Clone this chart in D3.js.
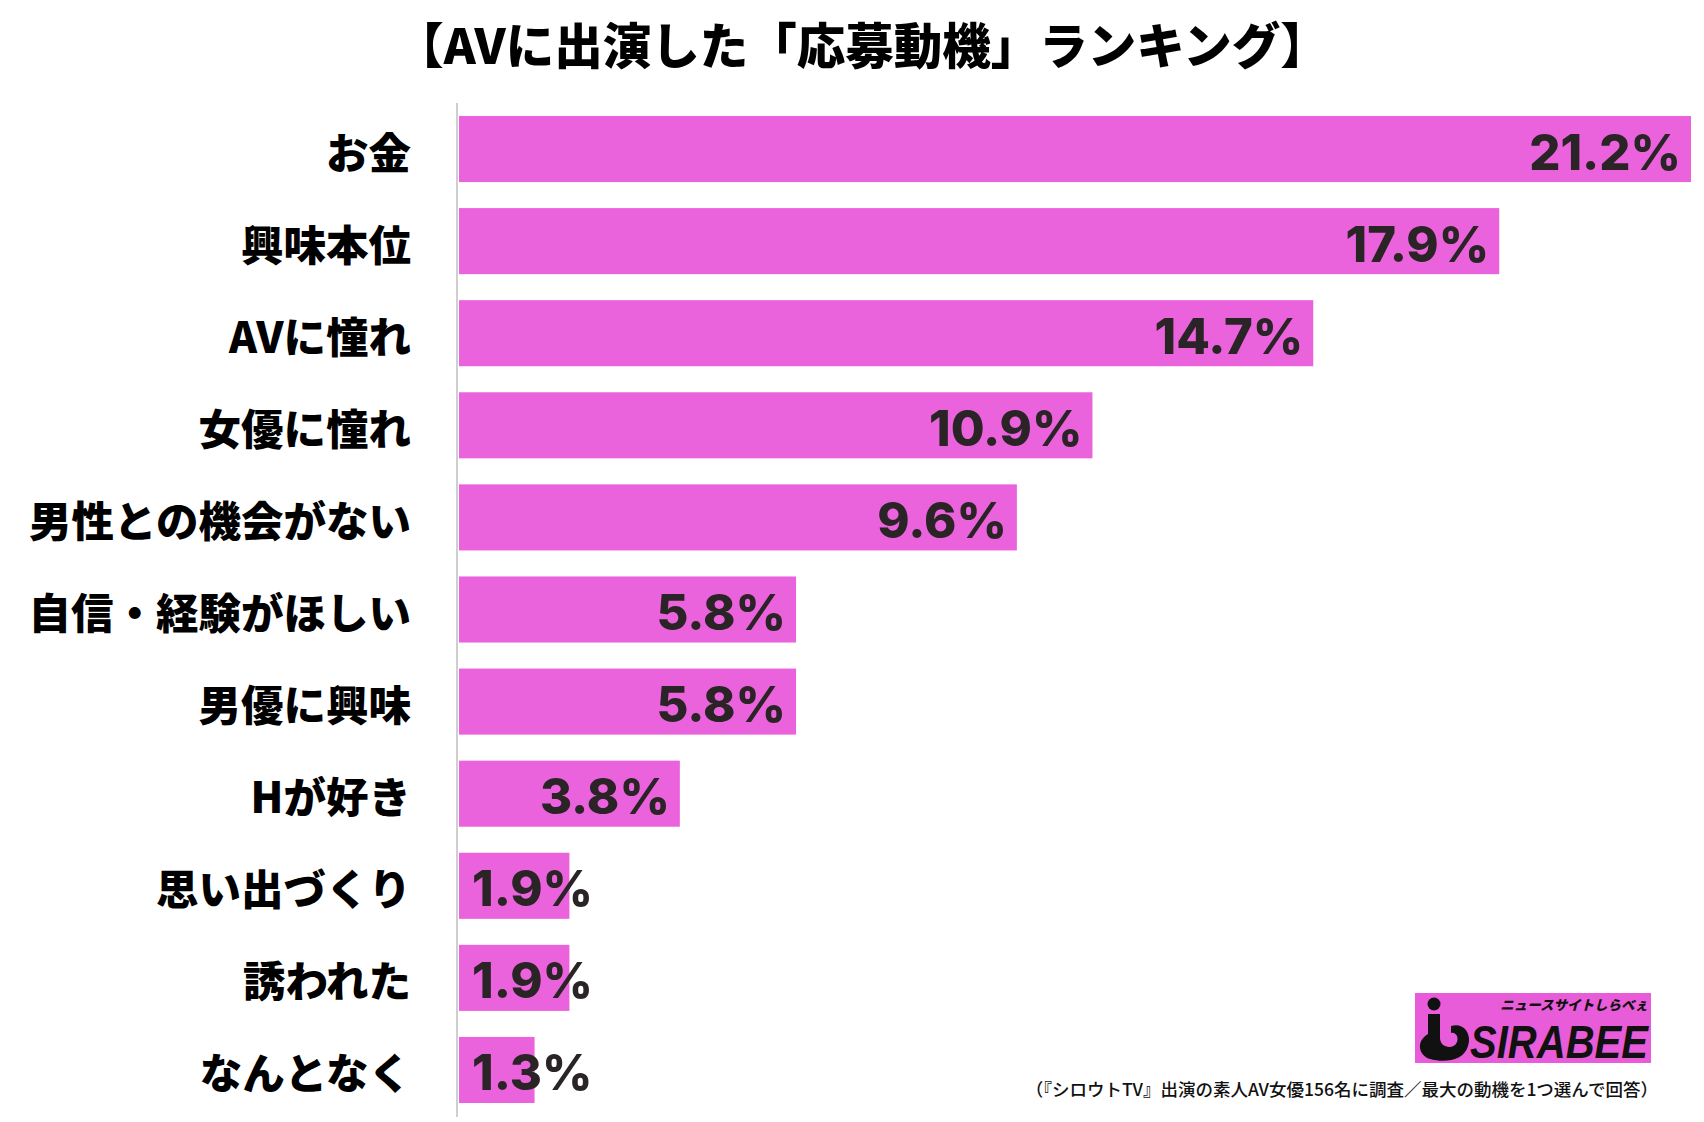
<!DOCTYPE html>
<html><head><meta charset="utf-8">
<script src="https://cdn.jsdelivr.net/npm/d3@7"></script>
<style>body{margin:0;background:#fff}svg{display:block}</style>
</head><body>
<script>
const categories = ["お金","興味本位","AVに憧れ","女優に憧れ","男性との機会がない","自信・経験がほしい","男優に興味","Hが好き","思い出づくり","誘われた","なんとなく"];
const values = [21.2,17.9,14.7,10.9,9.6,5.8,5.8,3.8,1.9,1.9,1.3];
const valueLabels = ["21.2%","17.9%","14.7%","10.9%","9.6%","5.8%","5.8%","3.8%","1.9%","1.9%","1.3%"];
const title = "【AVに出演した「応募動機」ランキング】";
const note = "（『シロウトTV』出演の素人AV女優156名に調査／最大の動機を1つ選んで回答）";

const W = 1704, H = 1122;
const svg = d3.select("body").append("svg").attr("width", W).attr("height", H);
const cjk = "'Noto Sans CJK JP','Noto Sans',sans-serif";

const x0 = 459;
const x = d3.scaleLinear().domain([0, 21.2]).range([x0, 1691]);
const y = d3.scaleBand().domain(categories).range([103, 1116]).paddingInner(26/92).paddingOuter(0.141);

svg.append("text").attr("x", 862).attr("y", 43).attr("text-anchor", "middle")
  .attr("dominant-baseline", "central").attr("font-family", cjk).attr("font-weight", 900)
  .attr("font-size", 48.5).attr("fill", "#000").text(title);

svg.append("line").attr("x1", 457).attr("x2", 457).attr("y1", 103).attr("y2", 1117)
  .attr("stroke", "#cfcfcf").attr("stroke-width", 2);

svg.selectAll("rect.bar").data(values).enter().append("rect").attr("class", "bar")
  .attr("x", x0).attr("y", (d, i) => y(categories[i]))
  .attr("width", d => x(d) - x0).attr("height", y.bandwidth())
  .attr("fill", "#EB62DD");

svg.selectAll("text.cat").data(categories).enter().append("text").attr("class", "cat")
  .attr("x", 411).attr("y", d => y(d) + y.bandwidth() / 2 + 1)
  .attr("text-anchor", "end").attr("dominant-baseline", "central")
  .attr("font-family", cjk).attr("font-weight", 900).attr("font-size", 42.5)
  .attr("fill", "#000").text(d => d);

const vl = svg.selectAll("text.val").data(values).enter().append("text").attr("class", "val")
  .attr("y", (d, i) => y(categories[i]) + y.bandwidth() / 2 + 3)
  .attr("text-anchor", "end").attr("dominant-baseline", "central")
  .attr("font-family", "Inter, 'Liberation Sans', sans-serif").attr("font-weight", 800)
  .attr("font-size", 49).attr("fill", "#2a2426").text((d, i) => valueLabels[i]);
vl.each(function(d) {
  const w = this.getComputedTextLength();
  d3.select(this).attr("x", Math.max(x(d) - 10, x0 + 13 + w));
});

// footnote
svg.append("text").attr("x", 1658).attr("y", 1088).attr("text-anchor", "end")
  .attr("dominant-baseline", "central").attr("font-family", cjk).attr("font-weight", 500)
  .attr("font-size", 17.5).attr("fill", "#111").text(note);

// logo
const lg = svg.append("g");
lg.append("rect").attr("x", 1415).attr("y", 993).attr("width", 236).attr("height", 70).attr("fill", "#E95CD9");
lg.append("circle").attr("cx", 1434).attr("cy", 1004).attr("r", 6.5).attr("fill", "#111");
lg.append("path").attr("d", "M1428,1014 L1440,1014 L1440,1038 C1440,1048 1454,1050 1457,1042 C1459,1036 1455,1032 1451,1033 L1451,1026 C1464,1022 1472,1034 1468,1046 C1464,1061 1444,1063 1430,1059 C1418,1055 1416,1041 1428,1034 Z").attr("fill", "#111");
lg.append("text").attr("x", 1648).attr("y", 1058).attr("text-anchor", "end")
  .attr("font-family", "'Liberation Sans', Arial, sans-serif").attr("font-weight", 700)
  .attr("font-style", "italic").attr("font-size", 46).attr("fill", "#111")
  .attr("textLength", 178).attr("lengthAdjust", "spacingAndGlyphs").text("SIRABEE");
lg.append("text").attr("x", 1648).attr("y", 1010).attr("text-anchor", "end")
  .attr("font-family", cjk).attr("font-weight", 900).attr("font-style", "italic")
  .attr("font-size", 13.5).attr("fill", "#111").text("ニュースサイトしらべぇ");
</script>
</body></html>
